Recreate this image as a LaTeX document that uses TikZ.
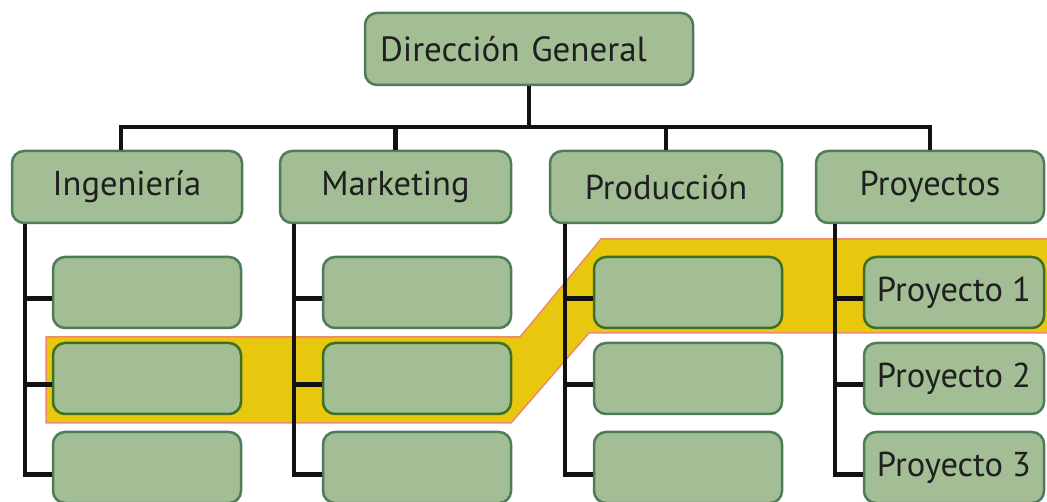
\documentclass[tikz,border=0pt]{standalone}
\usepackage{fontspec}
\setmainfont{PT Sans}
\usepackage{tikz}
\definecolor{boxfill}{HTML}{A3BE95}
\definecolor{boxline}{HTML}{4E7B58}
\definecolor{hiline}{HTML}{3F6F22}
\definecolor{bandfill}{HTML}{E8C80F}
\definecolor{bandline}{HTML}{EE8A6A}
\definecolor{inktext}{HTML}{1F1F1F}
\tikzset{
	orgbox/.style={draw=boxline, fill=boxfill, line width=2.5pt, rounded corners=12pt,
		minimum height=71pt, inner sep=0pt, text=inktext, font=\fontsize{34.5}{40}\selectfont},
	hibox/.style={orgbox, draw=hiline},
	link/.style={line width=4.5pt, color=black!93}
}

\begin{document}
\begin{tikzpicture}[x=1pt, y=-1pt]
			%%%%% START %%%%%
			\useasboundingbox (0,0) rectangle (1047,502);
			\clip (0,0) rectangle (1047,502);
			
			% banda amarilla
			\draw[fill=bandfill, draw=bandline, line width=1.5pt] (46,337) -- (520,337) -- (601,239) -- (1060,239)
				-- (1060,333) -- (589,333) -- (511,423) -- (46,423) -- cycle;
			
			% cajas
			\node[orgbox, minimum width=328pt, minimum height=72pt, text width=298pt, align=left,
				font=\fontsize{35}{40}\selectfont] (dg) at (529,49) {Dirección General};
			
			\node[orgbox, minimum width=230pt, minimum height=72pt] (ing) at (127,187) {Ingeniería};
			\node[orgbox, minimum width=231pt, minimum height=72pt] (mkt) at (395.5,187) {Marketing};
			\node[orgbox, minimum width=232pt, minimum height=72pt] (pro) at (666,187) {Producción};
			\node[orgbox, minimum width=228pt, minimum height=72pt] (pry) at (930,187) {Proyectos};
			
			\node[orgbox, minimum width=188pt] (ing1) at (147,292.5) {};
			\node[hibox, minimum width=188pt] (ing2) at (147,378.5) {};
			\node[orgbox, minimum width=188pt] (ing3) at (147,467.5) {};
			
			\node[orgbox, minimum width=188pt] (mkt1) at (417,292.5) {};
			\node[hibox, minimum width=188pt] (mkt2) at (417,378.5) {};
			\node[orgbox, minimum width=188pt] (mkt3) at (417,467.5) {};
			
			\node[hibox, minimum width=188pt] (pro1) at (688,292.5) {};
			\node[orgbox, minimum width=188pt] (pro2) at (688,378.5) {};
			\node[orgbox, minimum width=188pt] (pro3) at (688,467.5) {};
			
			\node[hibox, minimum width=180pt] (pry1) at (954,292.5) {Proyecto 1};
			\node[orgbox, minimum width=180pt] (pry2) at (954,378.5) {Proyecto 2};
			\node[orgbox, minimum width=180pt] (pry3) at (954,467.5) {Proyecto 3};
			
			% lineas
			\coordinate (bus) at (0,127);
			\draw[link] (dg.south) -- (dg.south |- bus);
			\draw[link] ([xshift=-6pt]ing.north) |- (bus -| pry.north) -- (pry.north);
			\draw[link] (mkt.north) -- (mkt.north |- bus);
			\draw[link] (pro.north) -- (pro.north |- bus);
			
			\coordinate (v1) at ([xshift=14pt]ing.south west);
			\coordinate (v2) at ([xshift=15pt]mkt.south west);
			\coordinate (v3) at ([xshift=16pt]pro.south west);
			\coordinate (v4) at ([xshift=20pt]pry.south west);
			
			\draw[link] (v1) |- ([yshift=-7pt]ing3.west);
			\draw[link] ([yshift=-6pt]ing1.west -| v1) -- ([yshift=-6pt]ing1.west);
			\draw[link] ([yshift=-6pt]ing2.west -| v1) -- ([yshift=-6pt]ing2.west);
			
			\draw[link] (v2) |- ([yshift=-7pt]mkt3.west);
			\draw[link] ([yshift=-6pt]mkt1.west -| v2) -- ([yshift=-6pt]mkt1.west);
			\draw[link] ([yshift=-6pt]mkt2.west -| v2) -- ([yshift=-6pt]mkt2.west);
			
			\draw[link] (v3) |- ([yshift=-7pt]pro3.west);
			\draw[link] ([yshift=-6pt]pro1.west -| v3) -- ([yshift=-6pt]pro1.west);
			\draw[link] ([yshift=-6pt]pro2.west -| v3) -- ([yshift=-6pt]pro2.west);
			
			\draw[link] (v4) |- ([yshift=-7pt]pry3.west);
			\draw[link] ([yshift=-6pt]pry1.west -| v4) -- ([yshift=-6pt]pry1.west);
			\draw[link] ([yshift=-6pt]pry2.west -| v4) -- ([yshift=-6pt]pry2.west);
			%%%%% END %%%%%
\end{tikzpicture}
\end{document}
